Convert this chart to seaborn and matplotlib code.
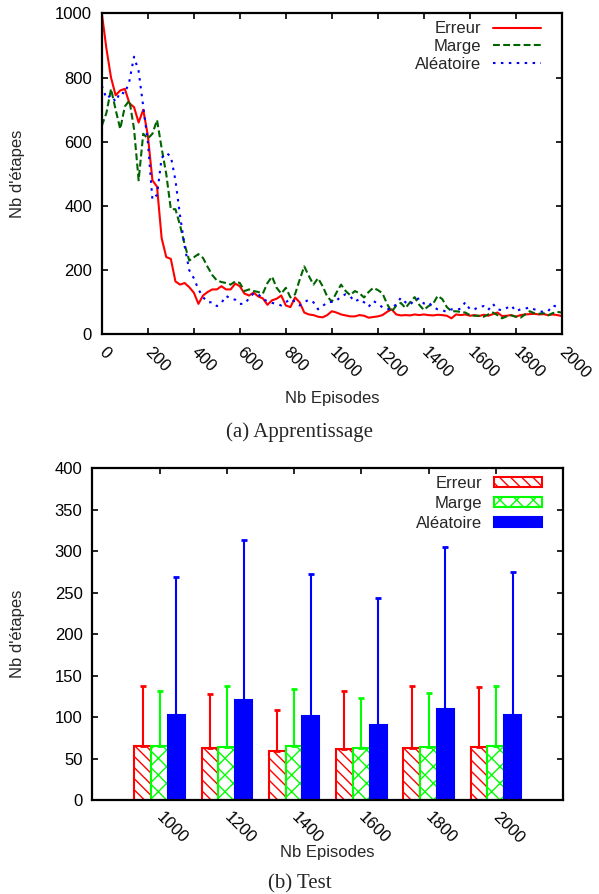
import numpy as np
import pandas as pd
import matplotlib
matplotlib.use("Agg")
import matplotlib.pyplot as plt
import matplotlib.transforms as mtransforms
import seaborn as sns

# (a) Apprentissage : nb d'etapes par episode (un point toutes les 20 episodes)
episodes = list(range(0, 2001, 20))
erreur = [1000, 890, 800, 745, 760, 765, 720, 708, 660, 700,
          620, 480, 460, 300, 241, 235, 165, 155, 160, 147,
          130, 95, 121, 132, 140, 140, 150, 140, 140, 158,
          150, 127, 121, 130, 118, 112, 92, 106, 111, 121,
          90, 85, 115, 100, 68, 62, 60, 55, 53, 60,
          72, 68, 62, 59, 56, 56, 60, 58, 52, 54,
          56, 60, 70, 78, 62, 59, 60, 59, 62, 60,
          62, 60, 59, 61, 60, 58, 50, 62, 60, 62,
          58, 60, 57, 61, 58, 63, 68, 57, 58, 60,
          55, 60, 62, 63, 64, 62, 63, 60, 62, 60, 57]
marge = [650, 690, 765, 700, 640, 710, 729, 640, 480, 625,
         610, 625, 668, 580, 500, 390, 390, 340, 280, 230,
         240, 250, 238, 210, 185, 168, 163, 160, 155, 165,
         160, 135, 140, 135, 132, 127, 160, 180, 145, 127,
         145, 115, 125, 170, 212, 182, 155, 175, 150, 118,
         102, 130, 155, 135, 122, 135, 128, 115, 132, 145,
         138, 128, 95, 70, 90, 98, 82, 100, 116, 92,
         76, 88, 95, 120, 110, 85, 72, 72, 70, 68,
         60, 58, 58, 55, 62, 68, 60, 50, 56, 59,
         55, 52, 62, 72, 66, 64, 66, 59, 66, 70, 68]
aleatoire = [775, 735, 745, 725, 755, 750, 790, 865, 820, 710,
             600, 420, 435, 550, 565, 555, 480, 370, 275, 200,
             175, 140, 116, 100, 100, 88, 98, 120, 111, 108,
             95, 95, 112, 128, 125, 110, 103, 98, 95, 90,
             100, 110, 102, 90, 100, 108, 100, 78, 88, 100,
             101, 105, 118, 125, 118, 102, 110, 100, 86, 104,
             96, 84, 78, 80, 94, 114, 100, 92, 108, 112,
             96, 100, 85, 78, 75, 70, 78, 76, 80, 100,
             78, 78, 86, 88, 76, 95, 78, 75, 82, 90,
             72, 78, 80, 84, 78, 72, 70, 72, 90, 86, 88]

# (b) Test : moyenne et borne haute de l'ecart
test_eps = ["1000", "1200", "1400", "1600", "1800", "2000"]
test_erreur = [65, 63, 59, 62, 63, 64]
test_erreur_haut = [138, 128, 108, 132, 138, 136]
test_marge = [65, 64, 65, 63, 64, 65]
test_marge_haut = [132, 137, 134, 123, 129, 138]
test_alea = [102, 121, 101, 90, 110, 103]
test_alea_haut = [269, 313, 272, 243, 305, 275]

methodes = ["Erreur", "Marge", "Aléatoire"]

sns.set_theme(style="ticks")
plt.rcParams["font.family"] = ["Liberation Sans", "DejaVu Sans"]
plt.rcParams["hatch.linewidth"] = 1.0

fig = plt.figure(figsize=(5.99, 8.94), dpi=100)
ax1 = fig.add_axes([0.170, 0.626, 0.768, 0.359])
ax2 = fig.add_axes([0.154, 0.105, 0.786, 0.3715])

FS = 12

# ---- (a) ----
lw = 1.5
sns.lineplot(x=episodes, y=erreur, color="#ff0000", lw=lw, ax=ax1, label="Erreur")
sns.lineplot(x=episodes, y=marge, color="#006400", lw=lw, ax=ax1,
             linestyle=(0, (3.3, 1.6)), label="Marge")
sns.lineplot(x=episodes, y=aleatoire, color="#0000ff", lw=lw, ax=ax1,
             linestyle=(0, (1.2, 2.6)), label="Aléatoire")
ax1.set_xlim(0, 2000)
ax1.set_ylim(0, 1000)
ax1.set_xticks(range(0, 2001, 200))
ax1.set_yticks(range(0, 1001, 200))
ax1.set_xticklabels([str(v) for v in range(0, 2001, 200)], rotation=-45,
                    ha="left", va="top", rotation_mode="anchor")
ax1.set_xlabel("Nb Episodes", fontsize=FS)
ax1.set_ylabel("Nb d'étapes", fontsize=FS)
ax1.xaxis.set_label_coords(0.5, -0.175)
ax1.yaxis.set_label_coords(-0.167, 0.5)
ax1.legend(loc="upper right", bbox_to_anchor=(0.955, 0.975), frameon=False,
           markerfirst=False, fontsize=FS, handlelength=2.9, handletextpad=0.7,
           labelspacing=0.17, borderpad=0, borderaxespad=0)

# ---- (b) ----
df = pd.DataFrame({
    "ep": test_eps * 3,
    "val": test_erreur + test_marge + test_alea,
    "methode": [m for m in methodes for _ in test_eps],
})
sns.barplot(data=df, x="ep", y="val", hue="methode", order=test_eps,
            hue_order=methodes, width=0.75, errorbar=None, ax=ax2,
            palette=["#ff0000", "#00ff00", "#0000ff"], saturation=1)

styles = [("white", "#ff0000", "\\\\\\"), ("white", "#00ff00", "xx"),
          ("#0000ff", "#0000ff", None)]
hauts = [test_erreur_haut, test_marge_haut, test_alea_haut]
moyennes = [test_erreur, test_marge, test_alea]
for cont, (fc, ec, h), top, mean in zip(ax2.containers, styles, hauts, moyennes):
    xs = []
    for p in cont.patches:
        p.set_facecolor(fc)
        p.set_edgecolor(ec)
        p.set_linewidth(1.5)
        if h:
            p.set_hatch(h)
        xs.append(p.get_x() + p.get_width() / 2)
    up = np.array(top) - np.array(mean)
    ax2.errorbar(xs, mean, yerr=[np.zeros(len(up)), up], fmt="none",
                 ecolor=ec, elinewidth=1.5, capsize=2, capthick=2, zorder=1)

ax2.set_xlim(-1, 6)
ax2.set_ylim(0, 400)
ax2.set_yticks(range(0, 401, 50))
ax2.set_xticks(range(len(test_eps)))
ax2.set_xticklabels(test_eps, rotation=-45, ha="left", va="top",
                    rotation_mode="anchor")
ax2.set_xlabel("Nb Episodes", fontsize=FS)
ax2.set_ylabel("Nb d'étapes", fontsize=FS)
ax2.xaxis.set_label_coords(0.5, -0.136)
ax2.yaxis.set_label_coords(-0.142, 0.5)
ax2.legend(handles=list(ax2.containers), labels=methodes, loc="upper right",
           bbox_to_anchor=(0.955, 0.975), frameon=False, markerfirst=False,
           fontsize=FS, handlelength=2.9, handleheight=0.55, handletextpad=0.7,
           labelspacing=0.3, borderpad=0, borderaxespad=0)

for ax in (ax1, ax2):
    for s in ax.spines.values():
        s.set_linewidth(1.6)
        s.set_color("black")
        s.set_visible(True)
    ax.tick_params(which="both", direction="in", length=4, width=1.2,
                   top=True, right=True, labelsize=FS, colors="black")
    ax.tick_params(axis="y", pad=7)
    ax.tick_params(axis="x", pad=7)
    shift = mtransforms.ScaledTranslation(0.05, 0, fig.dpi_scale_trans)
    for lab in ax.xaxis.get_majorticklabels():
        lab.set_transform(lab.get_transform() + shift)

fig.text(0.5, 1 - 432 / 894, "(a) Apprentissage", ha="center", va="center",
         fontsize=15, family=["Liberation Serif", "DejaVu Serif"])
fig.text(0.5, 1 - 884 / 894, "(b) Test", ha="center", va="center",
         fontsize=15, family=["Liberation Serif", "DejaVu Serif"])

fig.savefig("out.png", dpi=100)
